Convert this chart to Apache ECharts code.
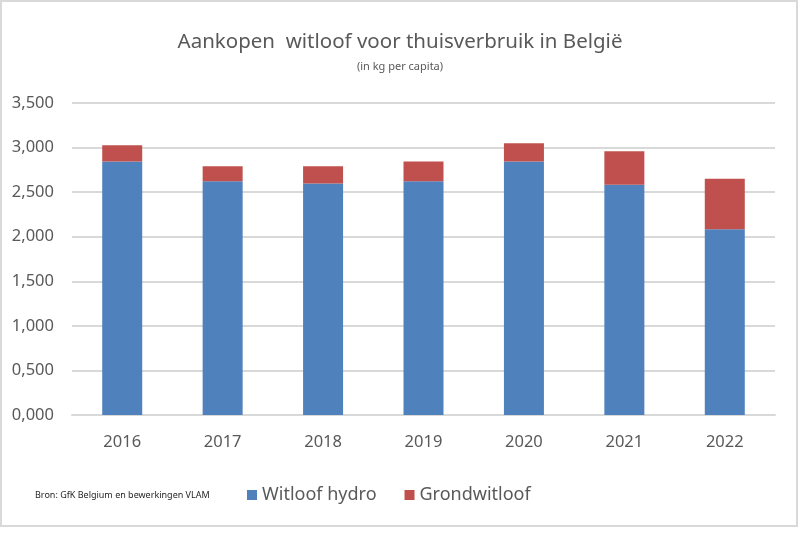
<!DOCTYPE html>
<html>
<head>
<meta charset="utf-8">
<script src="https://cdn.jsdelivr.net/npm/echarts@6/dist/echarts.min.js"></script>
<style>
  html, body { margin: 0; padding: 0; background: #fff; }
  #main { width: 800px; height: 547px; }
</style>
</head>
<body>
<div id="main"></div>
<script>
// jaren en verbruik in kg per capita
const years = ["2016", "2017", "2018", "2019", "2020", "2021", "2022"];
const hydro = [2.843, 2.622, 2.597, 2.622, 2.843, 2.582, 2.085];
const grond = [0.183, 0.168, 0.193, 0.221, 0.205, 0.377, 0.564];

const textColor = "#595959";
const font = "Noto Sans";

const myChart = echarts.init(document.getElementById("main"));
const option = {
  backgroundColor: "#fff",
  animation: false,
  title: {
    text: "Aankopen  witloof voor thuisverbruik in België",
    subtext: "(in kg per capita)",
    left: "center",
    top: 27,
    itemGap: 8,
    textStyle: { fontFamily: font, fontSize: 20.5, fontWeight: "normal", color: textColor },
    subtextStyle: { fontFamily: font, fontSize: 11, color: textColor },
  },
  grid: { left: 72, right: 25, top: 103, bottom: 132 },
  legend: {
    left: 242,
    top: 481,
    icon: "rect",
    itemWidth: 10,
    itemHeight: 10,
    itemGap: 28,
    textStyle: { fontFamily: font, fontSize: 18, color: textColor },
  },
  xAxis: {
    type: "category",
    data: years,
    axisTick: { show: false },
    axisLine: { lineStyle: { color: "#d9d9d9", width: 2 } },
    axisLabel: { fontFamily: font, fontSize: 16.5, color: textColor, margin: 19 },
  },
  yAxis: {
    type: "value",
    min: 0,
    max: 3.5,
    interval: 0.5,
    axisLabel: {
      fontFamily: font,
      fontSize: 16.5,
      color: textColor,
      margin: 18,
      formatter: (v) => v.toFixed(3).replace(".", ","),
    },
    splitLine: { lineStyle: { color: "#d9d9d9", width: 2 } },
  },
  series: [
    {
      name: "Witloof hydro",
      type: "bar",
      stack: "totaal",
      barWidth: 40,
      itemStyle: { color: "#4f81bd" },
      data: hydro,
    },
    {
      name: "Grondwitloof",
      type: "bar",
      stack: "totaal",
      barWidth: 40,
      itemStyle: { color: "#c0504d" },
      data: grond,
    },
  ],
  graphic: [
    {
      type: "rect",
      shape: { x: 1, y: 1, width: 796, height: 525 },
      style: { fill: "none", stroke: "#d9d9d9", lineWidth: 2 },
      silent: true,
    },
    {
      type: "text",
      left: 35,
      top: 491,
      style: {
        text: "Bron: GfK Belgium en bewerkingen VLAM",
        font: "9px 'Liberation Sans Narrow', 'Noto Sans'",
        fill: "#262626",
      },
    },
  ],
};
myChart.setOption(option);
</script>
</body>
</html>
